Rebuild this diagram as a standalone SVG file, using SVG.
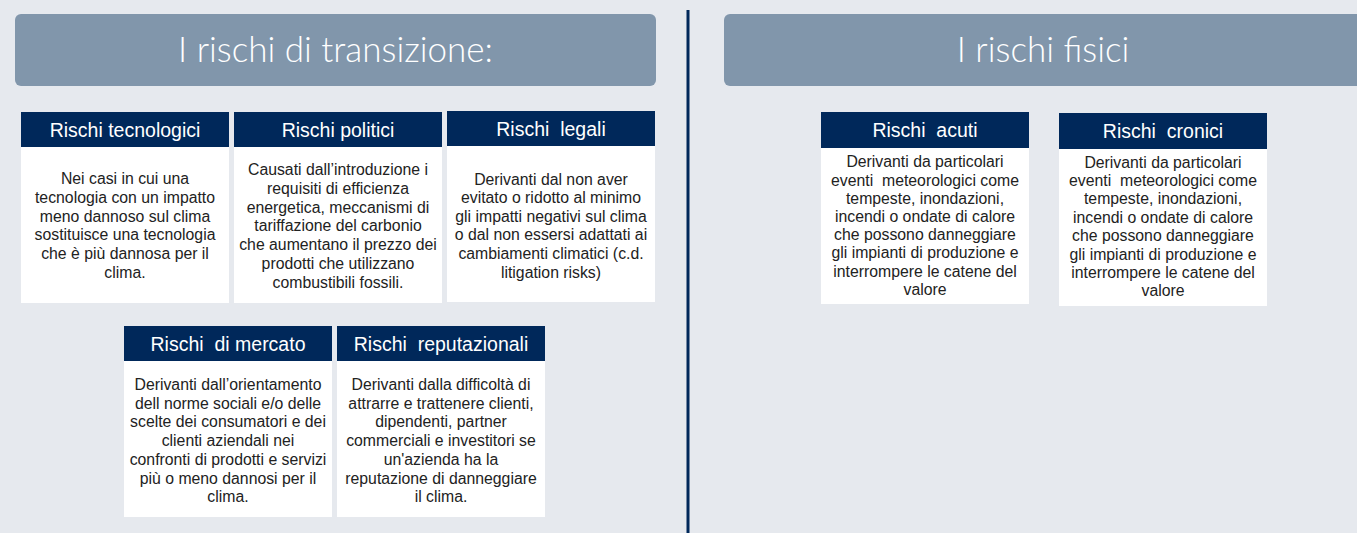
<svg xmlns="http://www.w3.org/2000/svg" width="1357" height="533" viewBox="0 0 1357 533">
<defs>
<style>
.bg{fill:#E6E9EE}
.hdr{fill:#8196AB}
.title{font-family:"Lato","Liberation Sans",sans-serif;font-weight:300;font-size:35px;fill:#FFFFFF;text-anchor:middle}
.bar{fill:#00285A}
.body{fill:#FFFFFF}
.bt{font-family:"Liberation Sans",Arial,sans-serif;font-size:19.5px;fill:#FFFFFF;text-anchor:middle;white-space:pre}
.tx{font-family:"Liberation Sans",Arial,sans-serif;font-size:15.8px;fill:#222222;text-anchor:middle;white-space:pre}
.div{stroke:#00285A;stroke-width:3}
</style>
</defs>
<rect class="bg" x="0" y="0" width="1357" height="533"/>
<g id="connectors">
<line class="div" x1="688" y1="10" x2="688" y2="533"/>
</g>
<g id="header-transizione">
<rect class="hdr" x="15" y="14" width="641" height="72" rx="6"/>
<text class="title" x="335.5" y="62">I rischi di transizione:</text>
</g>
<g id="header-fisici">
<rect class="hdr" x="724" y="14" width="640" height="72" rx="6"/>
<text class="title" x="1043" y="62">I rischi fisici</text>
</g>
<g id="rischi-tecnologici">
<rect class="bar" x="21" y="112" width="208" height="35"/>
<rect class="body" x="21" y="147" width="208" height="156"/>
<text class="bt" x="125" y="136.5">Rischi tecnologici</text>
<text class="tx" x="125" y="184">Nei casi in cui una</text>
<text class="tx" x="125" y="202.8">tecnologia con un impatto</text>
<text class="tx" x="125" y="221.6">meno dannoso sul clima</text>
<text class="tx" x="125" y="240.4">sostituisce una tecnologia</text>
<text class="tx" x="125" y="259.2">che è più dannosa per il</text>
<text class="tx" x="125" y="278">clima.</text>
</g>
<g id="rischi-politici">
<rect class="bar" x="234" y="112" width="208" height="35"/>
<rect class="body" x="234" y="147" width="208" height="156"/>
<text class="bt" x="338" y="136.5">Rischi politici</text>
<text class="tx" x="338" y="175">Causati dall’introduzione i</text>
<text class="tx" x="338" y="193.8">requisiti di efficienza</text>
<text class="tx" x="338" y="212.6">energetica, meccanismi di</text>
<text class="tx" x="338" y="231.4">tariffazione del carbonio</text>
<text class="tx" x="338" y="250.2">che aumentano il prezzo dei</text>
<text class="tx" x="338" y="269">prodotti che utilizzano</text>
<text class="tx" x="338" y="287.8">combustibili fossili.</text>
</g>
<g id="rischi-legali">
<rect class="bar" x="447" y="111" width="208" height="35"/>
<rect class="body" x="447" y="146" width="208" height="156"/>
<text class="bt" x="551" y="135.5">Rischi  legali</text>
<text class="tx" x="551" y="184.5">Derivanti dal non aver</text>
<text class="tx" x="551" y="203.1">evitato o ridotto al minimo</text>
<text class="tx" x="551" y="221.7">gli impatti negativi sul clima</text>
<text class="tx" x="551" y="240.3">o dal non essersi adattati ai</text>
<text class="tx" x="551" y="258.9">cambiamenti climatici (c.d.</text>
<text class="tx" x="551" y="277.5">litigation risks)</text>
</g>
<g id="rischi-mercato">
<rect class="bar" x="124" y="326" width="208" height="35"/>
<rect class="body" x="124" y="361" width="208" height="156"/>
<text class="bt" x="228" y="350.5">Rischi  di mercato</text>
<text class="tx" x="228" y="390">Derivanti dall’orientamento</text>
<text class="tx" x="228" y="408.7">dell norme sociali e/o delle</text>
<text class="tx" x="228" y="427.4">scelte dei consumatori e dei</text>
<text class="tx" x="228" y="446.1">clienti aziendali nei</text>
<text class="tx" x="228" y="464.8">confronti di prodotti e servizi</text>
<text class="tx" x="228" y="483.5">più o meno dannosi per il</text>
<text class="tx" x="228" y="502.2">clima.</text>
</g>
<g id="rischi-reputazionali">
<rect class="bar" x="337" y="326" width="208" height="35"/>
<rect class="body" x="337" y="361" width="208" height="156"/>
<text class="bt" x="441" y="350.5">Rischi  reputazionali</text>
<text class="tx" x="441" y="390">Derivanti dalla difficoltà di</text>
<text class="tx" x="441" y="408.7">attrarre e trattenere clienti,</text>
<text class="tx" x="441" y="427.4">dipendenti, partner</text>
<text class="tx" x="441" y="446.1">commerciali e investitori se</text>
<text class="tx" x="441" y="464.8">un'azienda ha la</text>
<text class="tx" x="441" y="483.5">reputazione di danneggiare</text>
<text class="tx" x="441" y="502.2">il clima.</text>
</g>
<g id="rischi-acuti">
<rect class="bar" x="821" y="112" width="208" height="36"/>
<rect class="body" x="821" y="148" width="208" height="156"/>
<text class="bt" x="925" y="137">Rischi  acuti</text>
<text class="tx" x="925" y="167.3">Derivanti da particolari</text>
<text class="tx" x="925" y="185.5">eventi  meteorologici come</text>
<text class="tx" x="925" y="203.7">tempeste, inondazioni,</text>
<text class="tx" x="925" y="221.9">incendi o ondate di calore</text>
<text class="tx" x="925" y="240.1">che possono danneggiare</text>
<text class="tx" x="925" y="258.3">gli impianti di produzione e</text>
<text class="tx" x="925" y="276.5">interrompere le catene del</text>
<text class="tx" x="925" y="294.7">valore</text>
</g>
<g id="rischi-cronici">
<rect class="bar" x="1059" y="113" width="208" height="36"/>
<rect class="body" x="1059" y="149" width="208" height="157"/>
<text class="bt" x="1163" y="138">Rischi  cronici</text>
<text class="tx" x="1163" y="167.5">Derivanti da particolari</text>
<text class="tx" x="1163" y="185.9">eventi  meteorologici come</text>
<text class="tx" x="1163" y="204.3">tempeste, inondazioni,</text>
<text class="tx" x="1163" y="222.7">incendi o ondate di calore</text>
<text class="tx" x="1163" y="241.1">che possono danneggiare</text>
<text class="tx" x="1163" y="259.5">gli impianti di produzione e</text>
<text class="tx" x="1163" y="277.9">interrompere le catene del</text>
<text class="tx" x="1163" y="296.3">valore</text>
</g>
</svg>
